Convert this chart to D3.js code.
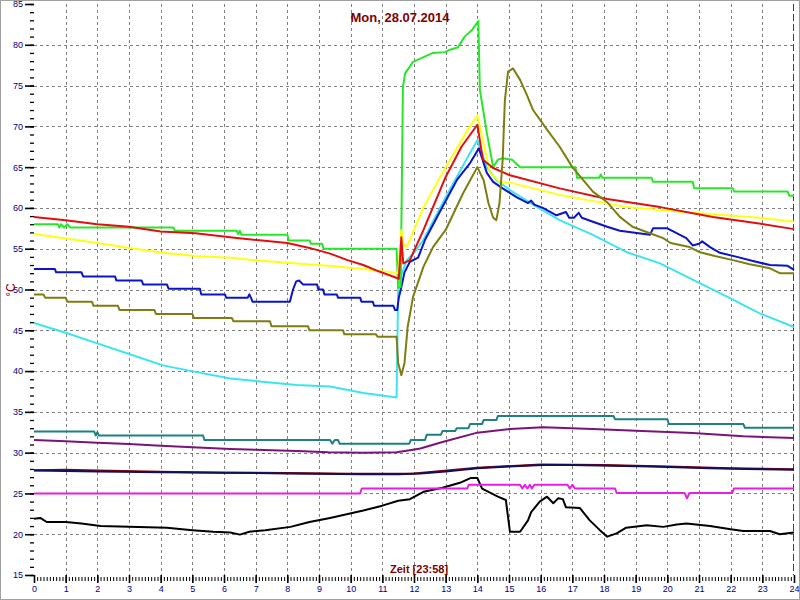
<!DOCTYPE html>
<html>
<head>
<meta charset="utf-8">
<script src="https://cdn.jsdelivr.net/npm/d3@7"></script>
<style>
  html, body { margin: 0; padding: 0; background: #fff; }
  svg { display: block; }
</style>
</head>
<body>
<svg id="chart" width="800" height="600"></svg>
<script>
// ---------- DATA ----------
const titleText = "Mon, 28.07.2014";
const xLabelText = "Zeit [23:58]";
const yLabelText = "°C";
const xTicks = d3.range(0, 25, 1);
const yTicks = [15, 20, 25, 30, 35, 40, 45, 50, 55, 60, 65, 70, 75, 80, 85];
const currentHour = 24;

const green = [[0,58.0],[0.75,58.0],[0.8,57.6],[0.85,58.0],[0.95,57.6],[1.05,58.0],[1.15,57.6],[4.4,57.6],[4.45,57.2],[6.4,57.2],[6.45,56.8],[6.5,57.2],[6.55,56.7],[8.0,56.7],[8.05,56.0],[8.7,56.0],[8.75,55.6],[9.1,55.6],[9.15,55.0],[11.45,55.0],[11.5,50.2],[11.58,50.3],[11.65,74.8],[11.72,76.5],[11.97,77.9],[12.25,78.4],[12.6,79.0],[12.98,79.1],[13.14,79.4],[13.39,79.7],[13.6,81.0],[13.83,81.8],[14.03,82.9],[14.08,74.5],[14.3,69.2],[14.5,65.0],[14.65,65.9],[14.8,66.1],[15.1,65.9],[15.35,65.0],[17.1,65.0],[17.15,63.7],[17.85,63.7],[17.9,64.1],[17.95,63.7],[19.5,63.7],[19.55,63.2],[20.8,63.2],[20.85,62.4],[22.07,62.4],[22.12,62.0],[23.8,62.0],[23.85,61.5],[24,61.5]];

const red = [[0,58.9],[1,58.5],[2,58.0],[3,57.7],[4,57.1],[5.1,56.9],[6.4,56.3],[7.2,56.0],[8.0,55.7],[8.7,55.1],[9.35,54.4],[9.9,53.6],[10.4,53.0],[10.9,52.2],[11.4,51.5],[11.52,51.3],[11.6,56.4],[11.66,53.2],[11.87,53.6],[12.3,57.3],[13.0,63.8],[13.5,67.5],[14.0,70.2],[14.18,65.9],[14.5,64.9],[15.03,64.0],[16.6,62.4],[18.1,61.1],[19.77,60.1],[21.44,58.9],[22.9,58.1],[24,57.4]];

const yellow = [[0,56.8],[0.9,56.3],[2,55.7],[3.03,55.1],[4.07,54.5],[5.1,54.1],[6.2,53.9],[7,53.6],[8.3,53.2],[9.3,52.9],[10.4,52.5],[11.35,52.1],[11.5,52.0],[11.6,57.3],[11.67,55.5],[11.77,55.2],[12.3,60.1],[13.0,65.0],[13.7,69.6],[14.0,71.4],[14.4,64.3],[14.7,63.2],[15.03,63.1],[16.6,61.6],[18.7,60.1],[20.8,59.4],[22.9,58.8],[24,58.3]];

const blue = [[0,52.5],[0.66,52.5],[0.7,52.1],[1.5,52.1],[1.55,51.6],[2.56,51.6],[2.6,51.1],[3.4,51.1],[3.45,50.6],[4.2,50.6],[4.25,50.1],[5.24,50.1],[5.28,49.4],[6.03,49.4],[6.07,49.0],[6.75,49.0],[6.8,49.4],[6.85,49.0],[6.9,48.5],[8.08,48.5],[8.18,50.0],[8.28,51.0],[8.37,51.1],[8.5,50.6],[8.94,50.6],[8.98,50.0],[9.13,50.0],[9.17,49.4],[9.56,49.4],[9.6,49.0],[10.3,49.0],[10.34,48.5],[10.7,48.5],[10.74,48.0],[11.35,48.0],[11.4,47.5],[11.47,47.5],[11.52,49.0],[11.6,50.3],[11.7,52.1],[11.87,53.4],[12.13,53.9],[12.35,56.1],[12.8,59.4],[13.35,63.4],[13.77,65.5],[14.05,67.3],[14.3,64.3],[14.5,63.2],[14.8,62.4],[15.25,61.3],[15.6,60.6],[15.7,60.9],[15.8,60.4],[16.07,60.0],[16.5,59.1],[16.8,59.5],[16.9,58.8],[17.05,58.8],[17.2,59.4],[17.3,58.8],[17.65,58.3],[18.1,57.7],[18.5,57.2],[19.45,56.7],[19.55,57.5],[20.0,57.5],[20.6,56.3],[20.8,55.4],[21.0,55.6],[21.1,55.9],[21.35,55.2],[21.66,54.5],[22.2,54.0],[22.7,53.5],[23.24,53.0],[23.8,52.9],[24,52.4]];

const cyan = [[0,45.9],[1,44.7],[2,43.4],[3,42.1],[4.07,40.7],[5.1,39.9],[6.2,39.1],[7.2,38.7],[8.3,38.3],[9.35,38.1],[10.4,37.3],[11.4,36.8],[11.45,36.8],[11.5,50.0],[11.55,51.2],[11.77,53.6],[12.0,54.5],[12.3,56.1],[13.0,61.3],[13.65,65.9],[14.0,68.3],[14.3,65.0],[14.6,63.4],[15.03,62.2],[15.76,60.4],[16.6,58.5],[17.65,56.7],[18.7,54.6],[19.77,53.2],[20.8,51.2],[21.9,49.1],[22.9,47.1],[24,45.4]];

const olive = [[0,49.4],[0.3,49.4],[0.35,49.0],[1.0,49.0],[1.05,48.5],[1.83,48.5],[1.88,48.0],[2.65,48.0],[2.7,47.5],[3.8,47.5],[3.85,47.0],[5.0,47.0],[5.05,46.5],[6.25,46.5],[6.3,46.1],[7.45,46.1],[7.5,45.5],[8.65,45.5],[8.7,45.0],[9.76,45.0],[9.8,44.5],[10.8,44.5],[10.85,44.2],[11.45,44.2],[11.5,41.0],[11.6,39.5],[11.7,41.0],[11.8,45.4],[11.97,49.1],[12.3,52.8],[12.6,55.2],[13.0,57.3],[13.55,61.8],[14.0,65.0],[14.2,63.4],[14.35,60.6],[14.5,58.8],[14.6,58.5],[14.7,60.6],[14.8,65.9],[14.87,73.2],[14.97,76.7],[15.13,77.1],[15.35,75.7],[15.57,73.8],[15.76,72.0],[16.2,69.6],[16.6,67.5],[17.0,65.0],[17.65,62.0],[18.1,60.7],[18.5,58.9],[18.9,57.7],[19.45,56.9],[19.87,56.3],[20.1,55.7],[20.7,55.2],[21.0,54.6],[21.5,54.1],[22.07,53.6],[22.6,53.1],[23.24,52.6],[23.55,52.0],[24,52.0]];

const teal = [[0,32.6],[1.9,32.6],[1.95,32.1],[2.0,32.5],[2.05,32.1],[5.34,32.1],[5.38,31.55],[9.35,31.55],[9.42,31.1],[9.5,31.55],[9.6,31.55],[9.65,31.1],[11.85,31.1],[11.9,31.55],[12.35,31.55],[12.4,32.2],[12.85,32.2],[12.9,32.65],[13.3,32.65],[13.35,33.0],[13.72,33.0],[13.77,33.5],[14.15,33.5],[14.2,34.0],[14.6,34.0],[14.65,34.5],[18.3,34.5],[18.35,34.1],[20.0,34.1],[20.05,33.5],[22.4,33.5],[22.45,33.05],[24,33.05]];

const purple = [[0,31.55],[1,31.4],[2,31.2],[3,31.05],[4,30.85],[5,30.65],[6.2,30.45],[7,30.35],[8.3,30.2],[9.3,30.05],[10.4,30.0],[11.45,30.05],[11.87,30.3],[12.2,30.5],[12.9,31.3],[14.0,32.45],[15.03,32.9],[16.07,33.1],[17.65,32.9],[19.2,32.65],[20.8,32.4],[22.4,32.0],[24,31.8]];

const maroon = [[0,27.85],[1,27.9],[2,27.8],[4,27.65],[6,27.55],[8,27.5],[10,27.4],[12,27.45],[14,28.15],[16,28.55],[18,28.5],[20,28.3],[22,28.1],[24,27.95]];

const navy = [[0,27.8],[2,27.7],[4,27.6],[6.2,27.55],[8,27.45],[10.4,27.35],[11.5,27.35],[12.2,27.45],[13,27.7],[14.0,28.1],[15,28.3],[16.07,28.5],[17,28.5],[18.2,28.4],[19.5,28.3],[21.35,28.1],[22.5,28.0],[24,27.9]];

const magenta = [[0,25.0],[10.3,25.0],[10.35,25.6],[13.68,25.6],[13.73,26.05],[15.35,26.05],[15.42,25.6],[15.5,26.05],[15.58,25.6],[15.66,26.05],[15.72,25.6],[15.8,26.05],[16.85,26.05],[16.92,25.6],[17.0,26.05],[17.08,25.6],[18.35,25.6],[18.4,25.05],[20.55,25.05],[20.62,24.4],[20.7,25.05],[22.05,25.05],[22.1,25.6],[24,25.6]];

const black = [[0,21.9],[0.2,22.0],[0.4,21.5],[1,21.5],[1.5,21.3],[2.1,21.0],[3.0,20.9],[4.2,20.8],[5.0,20.5],[5.66,20.3],[6.2,20.2],[6.5,19.95],[6.8,20.3],[7.3,20.5],[8.1,20.9],[8.7,21.5],[9.35,22.0],[10.4,22.9],[11.0,23.5],[11.5,24.1],[11.87,24.3],[12.3,25.2],[12.9,25.7],[13.45,26.3],[13.8,26.9],[14.0,26.9],[14.15,25.6],[14.65,24.6],[14.9,24.2],[15.03,20.3],[15.35,20.3],[15.6,21.7],[15.7,22.7],[15.97,24.0],[16.2,24.6],[16.4,23.8],[16.55,24.4],[16.7,24.3],[16.8,23.3],[17.24,23.2],[17.55,21.7],[17.87,20.5],[18.1,19.7],[18.4,20.1],[18.7,20.8],[19.35,21.1],[19.87,20.9],[20.3,21.2],[20.6,21.3],[21.35,21.0],[22.0,20.6],[22.4,20.4],[23.24,20.4],[23.55,20.0],[24,20.2]];

const seriesList = [
  { data: black,   color: "#000000" },
  { data: magenta, color: "#e61ee6" },
  { data: maroon,  color: "#8b0000" },
  { data: navy,    color: "#10105e" },
  { data: purple,  color: "#7a1478" },
  { data: teal,    color: "#1e8080" },
  { data: cyan,    color: "#3ce4f0" },
  { data: blue,    color: "#0a14c8" },
  { data: green,   color: "#28e628" },
  { data: yellow,  color: "#ffff14" },
  { data: red,     color: "#e01010" },
  { data: olive,   color: "#7d7d10" }
];

// ---------- CHART ----------
const svg = d3.select("#chart");
const x = d3.scaleLinear().domain([0, 24]).range([34, 794]);
const y = d3.scaleLinear().domain([15, 85]).range([575, 4]);

svg.append("rect").attr("x", 0.5).attr("y", 0.5).attr("width", 799).attr("height", 599)
  .attr("fill", "#fff").attr("stroke", "#a0a0a0");

// grid
const grid = svg.append("g");
grid.selectAll("line.h").data(yTicks.filter(v => v > 15 && v < 85)).join("line")
  .attr("x1", x(0)).attr("x2", x(24))
  .attr("y1", d => Math.round(y(d)) + 0.5).attr("y2", d => Math.round(y(d)) + 0.5)
  .attr("stroke", "#808080").attr("stroke-dasharray", "3,3");
grid.selectAll("line.v").data(xTicks.filter(v => v > 0 && v < 24)).join("line")
  .attr("x1", d => Math.round(x(d)) + 0.5).attr("x2", d => Math.round(x(d)) + 0.5)
  .attr("y1", y(85)).attr("y2", y(15))
  .attr("stroke", "#808080").attr("stroke-dasharray", "3,3");

// y axis (major + minor)
const yMinor = svg.append("g").attr("transform", "translate(34,0)")
  .call(d3.axisLeft(y).tickValues(d3.range(15, 86, 1)).tickSize(4).tickFormat(""));
const yMajor = svg.append("g").attr("transform", "translate(34,0)")
  .call(d3.axisLeft(y).tickValues(yTicks).tickSize(9).tickPadding(2));
[yMinor, yMajor].forEach(g => g.select(".domain").remove());
yMinor.selectAll("line").attr("stroke", "#000").attr("stroke-width", 1.3);
yMajor.selectAll("line").attr("stroke", "#000").attr("stroke-width", 1.6);
yMajor.selectAll("text").attr("fill", "#000080").style("font", "9px 'Liberation Sans', Arial, sans-serif");

// x axis (major + minor)
const xMinor = svg.append("g").attr("transform", "translate(0,577)")
  .call(d3.axisBottom(x).tickValues(d3.range(0, 240).map(i => i / 10)).tickSize(4).tickFormat(""));
const xMajor = svg.append("g").attr("transform", "translate(0,575)")
  .call(d3.axisBottom(x).tickValues(xTicks).tickSize(8).tickPadding(3));
[xMinor, xMajor].forEach(g => g.select(".domain").remove());
xMinor.selectAll("line").attr("stroke", "#000").attr("stroke-width", 1);
xMajor.selectAll("line").attr("stroke", "#000").attr("stroke-width", 1.6);
xMajor.selectAll("text").attr("fill", "#000080").style("font", "9px 'Liberation Sans', Arial, sans-serif");

// current time marker
svg.append("line")
  .attr("x1", Math.round(x(currentHour)) - 0.5).attr("x2", Math.round(x(currentHour)) - 0.5)
  .attr("y1", y(85)).attr("y2", y(15))
  .attr("stroke", "#007000").attr("stroke-dasharray", "7,3");

// series
const line = d3.line().x(d => x(d[0])).y(d => y(d[1]));
svg.append("g").selectAll("path").data(seriesList).join("path")
  .attr("d", d => line(d.data))
  .attr("fill", "none")
  .attr("stroke", d => d.color)
  .attr("stroke-width", 2)
  .attr("stroke-linejoin", "round");

// texts
svg.append("text").attr("x", 400).attr("y", 22).attr("text-anchor", "middle")
  .attr("fill", "#800000").style("font", "bold 13px 'Liberation Sans', Arial, sans-serif")
  .text(titleText);
svg.append("text").attr("x", 390).attr("y", 573)
  .attr("fill", "#800000").style("font", "bold 11px 'Liberation Sans', Arial, sans-serif")
  .text(xLabelText);
svg.append("text").attr("transform", "translate(15,290) rotate(-90)").attr("text-anchor", "middle")
  .attr("fill", "#800000").style("font", "12px 'Liberation Sans', Arial, sans-serif")
  .text(yLabelText);
</script>
</body>
</html>
